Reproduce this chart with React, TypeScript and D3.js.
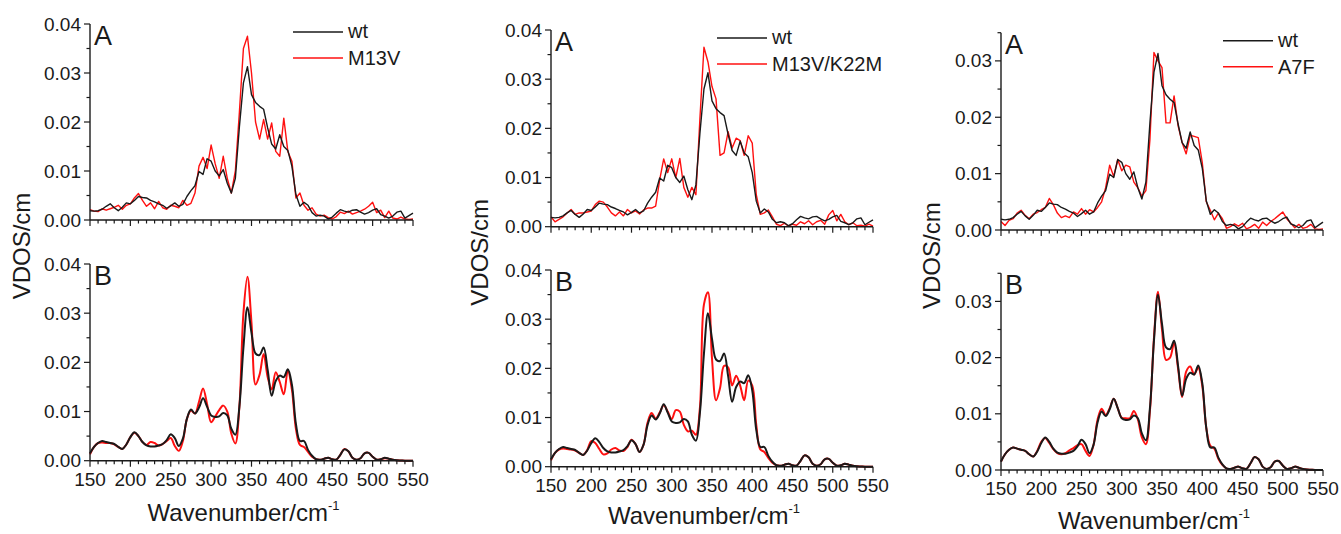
import React from "react";
import * as d3 from "d3";

// sampling grid of the spectra, cm-1
const waves = d3.range(150, 551, 5);

// VDOS values in units of 0.001 /cm, one per grid point
const wtA = [
  1.9, 1.8, 1.9, 2.2, 2.8, 3.3, 2.5, 1.9, 2.6, 3.5,
  3.3, 4.0, 4.8, 4.6, 4.5, 4.0, 3.7, 3.3, 3.0, 2.4,
  2.9, 3.5, 2.8, 3.2, 4.8, 6.0, 7.0, 9.9, 9.3, 12.5,
  12.0, 10.0, 9.0, 10.3, 7.5, 5.5, 8.5, 19.0, 28.0, 31.3,
  25.6, 24.0, 23.2, 22.6, 18.8, 15.5, 14.5, 17.4, 15.0, 14.2,
  11.0, 5.2, 2.8, 3.6, 3.0, 1.5, 0.8, 1.0, 0.8, 0.2,
  0.6, 1.4, 2.1, 1.8, 1.6, 2.0, 2.1, 1.6, 1.2, 1.5,
  2.0, 2.3, 1.1, 0.8, 0.4, 0.8, 1.6, 1.8, 0.4, 0.9,
  1.4,
];
const m13vA = [
  2.1, 1.8, 1.7, 2.3, 2.0, 2.3, 2.6, 3.0, 2.2, 3.0,
  3.3, 4.5, 5.4, 4.0, 2.8, 3.5, 2.3, 3.8, 2.5, 2.2,
  3.0, 2.8, 2.5, 4.0, 3.0, 3.4, 5.5, 11.0, 12.8, 10.5,
  15.3, 11.5, 8.5, 13.0, 8.5, 5.5, 10.0, 22.0, 35.0, 37.5,
  30.0, 20.0, 16.5, 20.5, 16.5, 19.8, 14.0, 13.0, 20.8, 14.0,
  12.0, 4.5, 5.5, 3.0, 2.0, 2.5, 1.2, 0.8, 1.0, 0.5,
  0.2, 0.7, 1.6, 1.3, 1.8, 1.2, 1.5, 1.8, 2.2, 2.8,
  3.6, 1.5, 2.0, 0.5, 1.8, 0.4, 0.2, 0.6, 0.2, 0.1,
  0.2,
];
const m13vk22mA = [
  2.0, 1.0, 1.5, 2.0, 2.8, 3.5, 2.5, 2.8, 2.8, 3.0,
  3.2, 4.5, 5.2, 5.0, 4.0, 2.8, 2.2, 3.0, 2.2, 3.5,
  2.8, 3.2, 2.6, 3.4, 3.8, 3.8, 4.2, 9.5, 13.8, 11.0,
  13.8, 10.0, 13.9, 8.0, 6.0, 8.0, 6.5, 22.0, 36.5, 33.5,
  28.5, 26.0, 14.5, 15.0, 19.3, 16.0, 18.0, 17.5, 14.5, 18.5,
  17.0, 6.5, 2.5, 2.8, 3.4, 2.0, 0.5, 0.2, 0.7, 0.1,
  0.5, 0.3, 1.0, 0.6, 1.2, 0.4, 1.0, 1.3, 0.5, 2.4,
  3.3, 1.2, 2.5, 1.0, 0.4, 0.8, 0.2, 0.3, 0.1, 0.5,
  0.1,
];
const a7fA = [
  1.5, 0.8, 1.7, 2.0, 3.0, 3.5, 2.6, 2.0, 2.8, 3.1,
  3.6, 4.0, 5.6, 4.5, 3.0, 2.2, 2.5, 2.2, 3.2, 2.8,
  3.8, 2.8, 3.6, 3.2, 4.0, 5.0, 7.5, 11.5, 9.5, 12.5,
  10.5, 11.5, 11.2, 8.5, 7.5, 6.0, 7.0, 16.0, 31.5, 30.0,
  28.8, 19.0, 19.0, 23.8, 18.5, 15.5, 13.5, 16.8, 16.6, 16.4,
  12.0, 5.0, 3.5, 1.8, 3.0, 2.0, 0.3, 0.6, 1.1, 0.7,
  1.2, 0.2, 0.5, 1.0, 0.3, 1.4, 0.8, 1.5, 2.0, 2.6,
  3.2, 2.0, 1.2, 0.4, 1.0, 0.3, 0.5, 1.0, 0.2, 0.1,
  0.2,
];

const wtB = [
  1.5, 2.8, 3.6, 4.0, 3.8, 3.6, 3.4, 2.8, 2.4, 3.3,
  4.8, 5.8, 5.0, 3.8, 3.1, 2.9, 2.9, 3.1, 3.4, 4.2,
  5.4, 4.6, 3.0, 4.5, 8.5, 10.4, 9.6, 10.8, 12.7, 11.0,
  9.2, 8.9, 9.0, 9.7, 9.2, 6.5, 5.3, 11.0, 23.0, 31.2,
  26.0, 21.8, 21.5, 23.0, 18.5, 13.2, 16.2, 17.3, 17.0, 18.6,
  15.5, 7.5, 4.0, 4.0, 2.2, 1.0, 0.3, 0.2, 0.4, 0.6,
  0.3, 0.2, 1.2, 2.3, 1.9, 0.6, 0.2, 0.5, 1.5, 1.6,
  0.8, 0.2, 0.3, 0.6, 0.4, 0.2, 0.1, 0.05, 0, 0,
  0,
];
const m13vB = [
  1.3, 2.8, 3.6, 3.7, 3.6, 3.6, 3.3, 2.8, 2.4, 3.3,
  4.8, 5.7, 5.0, 3.8, 3.2, 3.8, 3.6, 3.1, 3.4, 4.0,
  4.6, 3.0, 2.0, 4.0, 8.5, 10.2, 9.6, 12.0, 14.7, 11.5,
  7.8, 9.0, 10.3, 11.2, 10.0, 5.5, 3.5, 11.0, 30.0, 37.4,
  28.0, 15.5, 17.5, 21.7, 17.0, 14.5, 18.0, 16.0, 13.5, 18.3,
  14.5, 6.5, 3.2, 2.8, 1.8, 0.8, 0.3, 0.2, 0.4, 0.6,
  0.3, 0.2, 1.2, 2.4, 1.9, 0.6, 0.2, 0.5, 1.5, 1.6,
  0.8, 0.2, 0.3, 0.5, 0.4, 0.2, 0.1, 0.05, 0, 0,
  0,
];
const m13vk22mB = [
  1.3, 2.8, 3.5, 3.7, 3.6, 3.5, 3.3, 2.8, 2.4, 3.4,
  5.2, 4.8, 3.6, 2.5, 2.7, 3.5, 3.8, 3.3, 3.2, 4.0,
  5.5, 4.6, 3.0, 4.5, 9.0, 10.9, 9.8, 11.0, 12.5, 11.2,
  9.7, 11.5, 11.2, 8.5, 7.2, 7.3, 6.5, 12.0, 33.0, 35.5,
  22.0, 13.5, 16.0, 20.5, 20.2, 16.5, 18.5, 16.5, 13.5, 17.5,
  16.5, 8.5, 3.5, 3.0, 1.8, 0.8, 0.3, 0.2, 0.4, 0.6,
  0.3, 0.2, 1.2, 2.3, 1.9, 0.6, 0.2, 0.5, 1.5, 1.6,
  0.8, 0.2, 0.3, 0.6, 0.4, 0.2, 0.1, 0.05, 0, 0,
  0,
];
const a7fB = [
  1.5, 2.8, 3.6, 4.0, 3.8, 3.6, 3.4, 2.8, 2.4, 3.4,
  5.0, 5.7, 4.8, 3.7, 3.0, 2.8, 3.0, 3.5, 3.9, 4.4,
  4.6, 3.4, 2.5, 4.5, 9.0, 10.9, 9.8, 11.0, 12.7, 11.0,
  9.3, 9.2, 9.2, 10.5, 9.0, 5.8, 4.6, 10.5, 23.5, 31.7,
  25.0, 19.6, 20.0, 22.6, 18.0, 13.0, 17.5, 18.4, 17.0, 18.2,
  15.0, 7.5, 4.3, 3.8, 2.0, 0.9, 0.3, 0.2, 0.4, 0.6,
  0.3, 0.2, 1.2, 2.3, 1.9, 0.6, 0.2, 0.5, 1.5, 1.6,
  0.8, 0.2, 0.3, 0.6, 0.4, 0.2, 0.1, 0.05, 0, 0,
  0,
];

const mutantNames = ["M13V", "M13V/K22M", "A7F"];
const xTicks = [150, 200, 250, 300, 350, 400, 450, 500, 550];
const yTicks4 = [0, 0.01, 0.02, 0.03, 0.04];
const yTicks3 = [0, 0.01, 0.02, 0.03];

const FONT = "'Liberation Sans', Arial, Helvetica, sans-serif";
const INK = "#1a1a1a";
const RED = "#ff1010";

const Panel = ({ left, right, top, bottom, yMax, yTicks, wt, mut, smooth, letter, showXLabels, legend }) => {
  const x = d3.scaleLinear().domain([150, 550]).range([left, right]);
  const y = d3.scaleLinear().domain([0, yMax]).range([bottom, top]);
  const line = d3
    .line()
    .x((d, i) => x(waves[i]))
    .y((d) => y(d / 1000))
    .curve(smooth ? d3.curveCatmullRom.alpha(0.5) : d3.curveLinear);
  const minorX = d3.range(150, 551, 10);
  const minorY = d3.range(0, yMax + 0.0001, 0.005);
  const lw = smooth ? 2 : 1.4;

  return (
    <g fontFamily={FONT} fill={INK}>
      <path d={line(mut)} fill="none" stroke={RED} strokeWidth={lw} strokeLinejoin="round" />
      <path d={line(wt)} fill="none" stroke={INK} strokeWidth={lw} strokeLinejoin="round" />
      <line x1={left} x2={left} y1={top} y2={bottom} stroke={INK} strokeWidth={1.4} />
      <line x1={left} x2={right} y1={bottom} y2={bottom} stroke={INK} strokeWidth={1.4} />
      {minorX.map((t) => (
        <line key={"mx" + t} x1={x(t)} x2={x(t)} y1={bottom} y2={bottom + (t % 50 === 0 ? 6 : 3.5)} stroke={INK} strokeWidth={1.2} />
      ))}
      {minorY.map((t, i) => (
        <line key={"my" + i} x1={left} x2={left - (i % 2 === 0 ? 6 : 3.5)} y1={y(t)} y2={y(t)} stroke={INK} strokeWidth={1.2} />
      ))}
      {yTicks.map((t) => (
        <text key={"yl" + t} x={left - 9} y={y(t) + 6.5} textAnchor="end" fontSize={19}>
          {t.toFixed(2)}
        </text>
      ))}
      {showXLabels &&
        xTicks.map((t) => (
          <text key={"xl" + t} x={x(t)} y={bottom + 25} textAnchor="middle" fontSize={19}>
            {t}
          </text>
        ))}
      <text x={left + 4} y={top + 21} fontSize={27}>
        {letter}
      </text>
      {legend && (
        <g>
          <line x1={legend.lineX} x2={legend.lineX + 50} y1={top + 8} y2={top + 8} stroke={INK} strokeWidth={1.6} />
          <text x={legend.textX} y={top + 14} fontSize={20}>wt</text>
          <line x1={legend.lineX} x2={legend.lineX + 50} y1={top + 34} y2={top + 34} stroke={RED} strokeWidth={1.6} />
          <text x={legend.textX} y={top + 41} fontSize={20}>{legend.name}</text>
        </g>
      )}
    </g>
  );
};

const columns = [
  { left: 90, right: 413, topA: 24, botA: 220, topB: 264, botB: 460.7, yMax: 0.04, yTicks: yTicks4, a: m13vA, b: m13vB, lineX: 293, textX: 348, yLabelX: 30, xLabelY: 521 },
  { left: 551, right: 873, topA: 30, botA: 226.7, topB: 270, botB: 466.7, yMax: 0.04, yTicks: yTicks4, a: m13vk22mA, b: m13vk22mB, lineX: 717, textX: 772, yLabelX: 488, xLabelY: 524 },
  { left: 1001, right: 1323, topA: 32.7, botA: 230, topB: 273.3, botB: 470, yMax: 0.035, yTicks: yTicks3, a: a7fA, b: a7fB, lineX: 1223, textX: 1278, yLabelX: 940, xLabelY: 529 },
];

export default function App() {
  return (
    <svg width={1341} height={534} style={{ position: "absolute", left: 0, top: 0, background: "#fff" }}>
      {columns.map((c, k) => (
        <g key={k}>
          <Panel
            left={c.left} right={c.right} top={c.topA} bottom={c.botA}
            yMax={c.yMax} yTicks={c.yTicks} wt={wtA} mut={c.a} smooth={false}
            letter="A" showXLabels={false}
            legend={{ lineX: c.lineX, textX: c.textX, name: mutantNames[k] }}
          />
          <Panel
            left={c.left} right={c.right} top={c.topB} bottom={c.botB}
            yMax={c.yMax} yTicks={c.yTicks} wt={wtB} mut={c.b} smooth={true}
            letter="B" showXLabels={true} legend={null}
          />
          <text
            transform={`translate(${c.yLabelX},${(c.botA + c.topB) / 2 + 4}) rotate(-90)`}
            textAnchor="middle" fontFamily={FONT} fontSize={24} fill={INK}
          >
            VDOS/cm
          </text>
          <text x={(c.left + c.right) / 2 - 8} y={c.xLabelY} textAnchor="middle" fontFamily={FONT} fontSize={24} fill={INK}>
            Wavenumber/cm<tspan dy={-11} fontSize={13}>-1</tspan>
          </text>
        </g>
      ))}
    </svg>
  );
}
